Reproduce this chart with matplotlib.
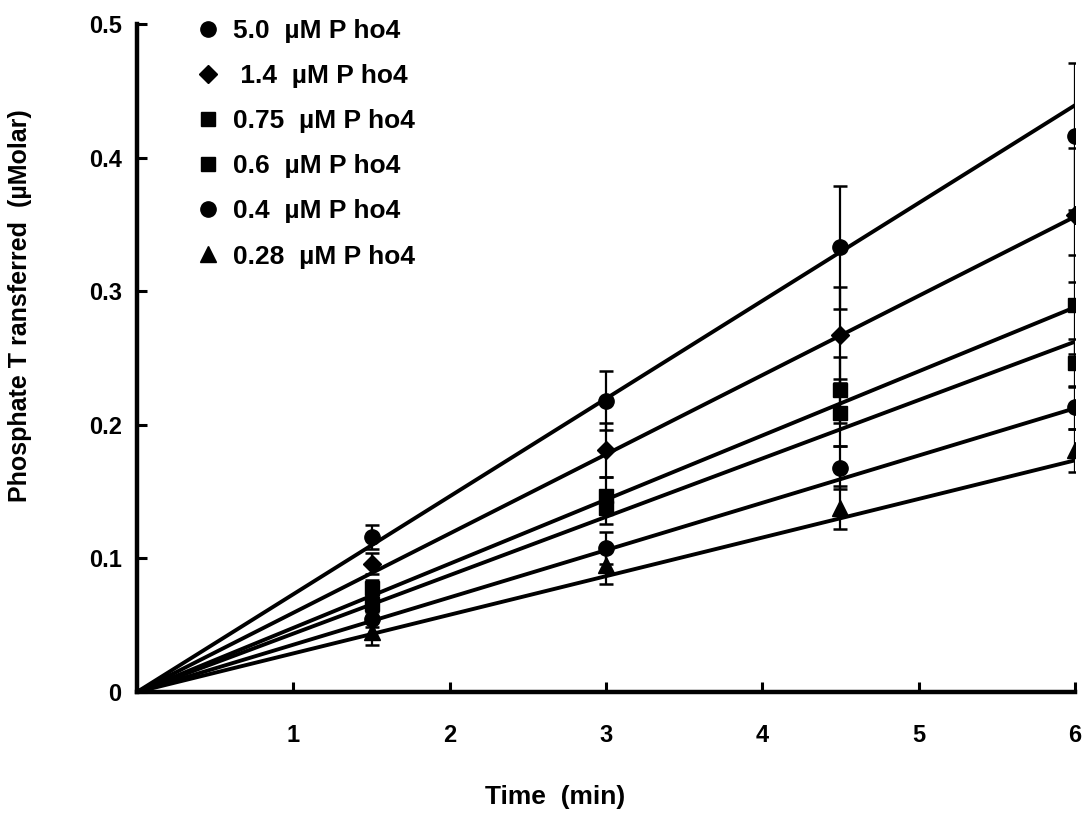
import numpy as np
import matplotlib
matplotlib.use("Agg")
import matplotlib.pyplot as plt
from matplotlib.lines import Line2D

plt.rcParams['font.family'] = ['Liberation Sans', 'DejaVu Sans']
plt.rcParams['font.weight'] = 'bold'

# Sampling times (min)
time_min = [1.5, 3.0, 4.5, 6.0]

# Series labels (Pho4 concentration)
labels = [
    "5.0  \u00b5M P ho4",
    " 1.4  \u00b5M P ho4",
    "0.75  \u00b5M P ho4",
    "0.6  \u00b5M P ho4",
    "0.4  \u00b5M P ho4",
    "0.28  \u00b5M P ho4",
]
markers = ['o', 'D', 's', 's', 'o', '^']

# Phosphate transferred (uM) at each time point
pho4_5_0 = [0.116, 0.218, 0.333, 0.416]
pho4_1_4 = [0.096, 0.181, 0.267, 0.357]
pho4_0_75 = [0.078, 0.147, 0.226, 0.290]
pho4_0_6 = [0.066, 0.138, 0.209, 0.246]
pho4_0_4 = [0.055, 0.108, 0.168, 0.213]
pho4_0_28 = [0.045, 0.095, 0.138, 0.181]

# Standard errors
err_5_0 = [0.009, 0.022, 0.046, 0.055]
err_1_4 = [0.008, 0.020, 0.036, 0.050]
err_0_75 = [0.006, 0.014, 0.025, 0.037]
err_0_6 = [0.006, 0.012, 0.025, 0.018]
err_0_4 = [0.006, 0.012, 0.016, 0.016]
err_0_28 = [0.010, 0.014, 0.016, 0.016]

# Initial rates from linear fits through the origin (uM/min)
fit_slopes = [0.0732, 0.0593, 0.0480, 0.0437, 0.0354, 0.0289]

series = [pho4_5_0, pho4_1_4, pho4_0_75, pho4_0_6, pho4_0_4, pho4_0_28]
errors = [err_5_0, err_1_4, err_0_75, err_0_6, err_0_4, err_0_28]
marker_sizes = {'o': 11, 'D': 9.5, 's': 10, '^': 11}

fig = plt.figure(figsize=(10.86, 8.13), dpi=100)
ax = fig.add_axes([137 / 1086, 1 - 692 / 813, 938 / 1086, 668 / 813])

t_fit = np.array([0.0, 6.0])
for slope in fit_slopes:
    ax.plot(t_fit, slope * t_fit, color='black', lw=2.8, solid_capstyle='round', zorder=2)

for vals, errs, mk in zip(series, errors, markers):
    ax.errorbar(time_min, vals, yerr=errs, fmt=mk, color='black', ms=marker_sizes[mk],
                ecolor='black', elinewidth=1.6, capsize=5, capthick=1.8, zorder=3)

ax.set_xlim(0, 6)
ax.set_ylim(0, 0.5)
ax.set_xticks([1, 2, 3, 4, 5, 6])
ax.set_xticklabels(['1', '2', '3', '4', '5', '6'])
ax.set_yticks([0, 0.1, 0.2, 0.3, 0.4, 0.5])
ax.set_yticklabels(['0', '0.1', '0.2', '0.3', '0.4', '0.5'])

for side in ('top', 'right'):
    ax.spines[side].set_visible(False)
for side in ('left', 'bottom'):
    ax.spines[side].set_linewidth(3.2)
ax.tick_params(axis='both', direction='in', length=7, width=2.2, labelsize=17)
ax.tick_params(axis='x', pad=23)
ax.tick_params(axis='y', pad=11)
for lbl in ax.get_xticklabels() + ax.get_yticklabels():
    lbl.set_fontweight('bold')

ax.set_xlabel("Time  (min)", fontsize=19, fontweight='bold')
ax.set_ylabel("Phosphate T ransferred  (\u00b5Molar)", fontsize=18, fontweight='bold')
ax.xaxis.set_label_coords(0.446, -0.139)
ax.yaxis.set_label_coords(-0.112, 0.578)

# Legend: markers only
handles = [Line2D([], [], linestyle='none', marker=mk, color='black',
                  ms=marker_sizes[mk]) for mk in markers]
ax.legend(handles, labels, loc='upper left', bbox_to_anchor=(198 / 1086, 1 - 19 / 813),
          bbox_transform=fig.transFigure, frameon=False, borderpad=0,
          borderaxespad=0, handlelength=0.78, handletextpad=0.55,
          labelspacing=0.80, prop={'size': 19, 'weight': 'bold'})

fig.savefig("out.png", dpi=100)
